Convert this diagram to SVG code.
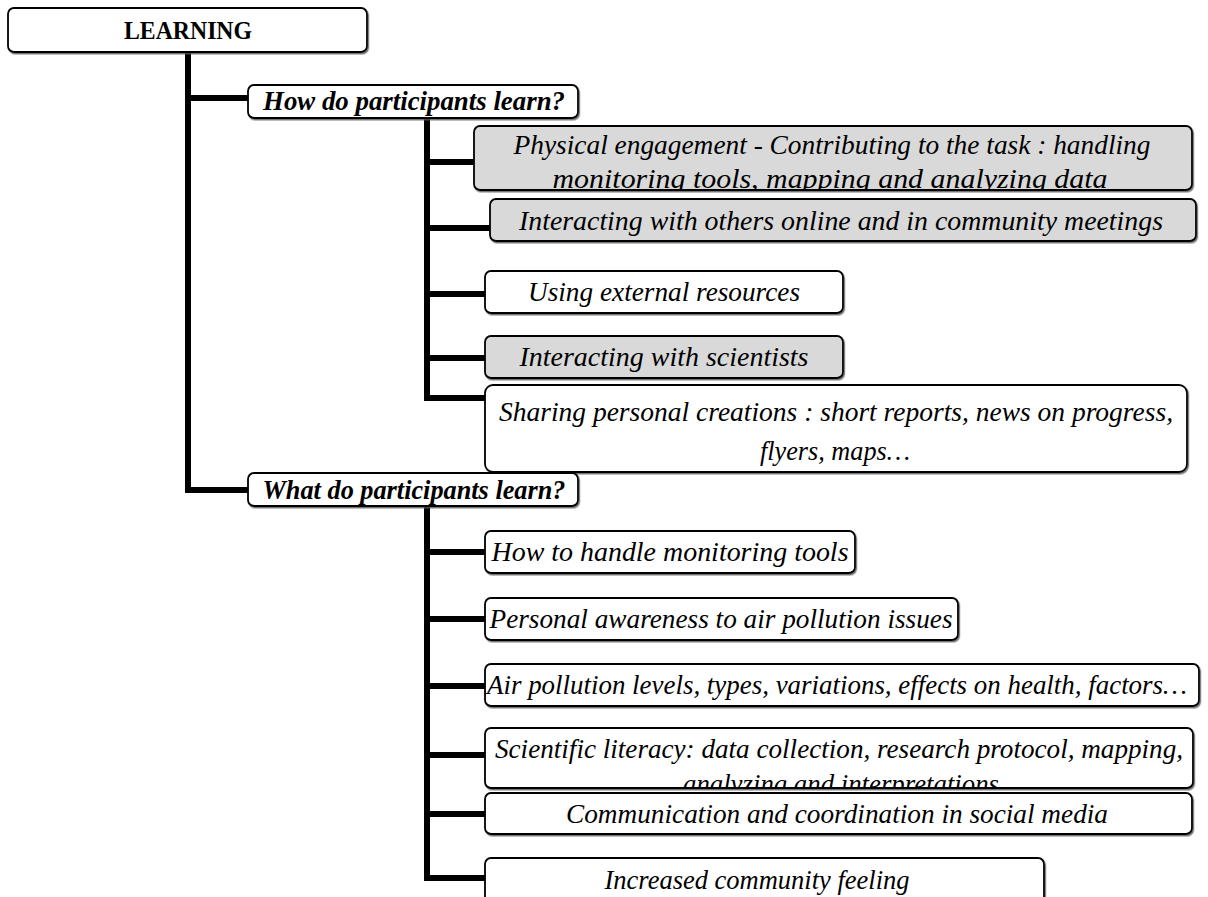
<svg xmlns="http://www.w3.org/2000/svg" width="1208" height="897" viewBox="0 0 1208 897">
<style>
.box{fill:#fff;stroke:#000;stroke-width:1.8;filter:url(#sh)}
.grey{fill:#d9d9d9}
.t{font-family:"Liberation Serif",serif;font-style:italic;font-size:27px;fill:#000;text-anchor:middle}
.b{font-weight:bold;font-size:28px}
.conn{fill:none;stroke:#000;stroke-width:6}
</style>
<defs>
<filter id="sh" x="-5%" y="-20%" width="110%" height="140%"><feDropShadow dx="1.2" dy="1.5" stdDeviation="0.6" flood-color="#555" flood-opacity="0.8"/></filter>
<clipPath id="c1"><rect x="474" y="126" width="718" height="64" rx="6"/></clipPath>
<clipPath id="c2"><rect x="485" y="728" width="708" height="60" rx="6"/></clipPath>
</defs>
<g id="connectors">
<path class="conn" d="M188 52 V490 H248"/>
<path class="conn" d="M188 98 H248"/>
<path class="conn" d="M427 118 V398 H485"/>
<path class="conn" d="M427 162 H474 M427 228 H490 M427 294 H485 M427 358 H485"/>
<path class="conn" d="M427 506 V878 H485"/>
<path class="conn" d="M427 552 H485 M427 619 H485 M427 686 H485 M427 755 H485 M427 814 H485"/>
</g>
<g id="learning"><rect class="box" x="8" y="8" width="359" height="44" rx="6"/><text class="t b" x="188" y="39" style="font-style:normal;font-size:25px" textLength="128" lengthAdjust="spacingAndGlyphs">LEARNING</text></g>
<g id="how"><rect class="box" x="248" y="85" width="330" height="33" rx="6"/><text class="t b" x="414" y="110" textLength="302" lengthAdjust="spacingAndGlyphs">How do participants learn?</text></g>
<g id="physical"><rect class="box grey" x="474" y="126" width="718" height="64" rx="6"/><g clip-path="url(#c1)"><text class="t" x="832" y="154" textLength="637" lengthAdjust="spacingAndGlyphs">Physical engagement - Contributing to the task : handling</text><text class="t" x="830" y="188" textLength="555" lengthAdjust="spacingAndGlyphs">monitoring tools, mapping and analyzing data</text></g></g>
<g id="others"><rect class="box grey" x="490" y="199" width="706" height="42" rx="6"/><text class="t" x="841" y="230" textLength="644" lengthAdjust="spacingAndGlyphs">Interacting with others online and in community meetings</text></g>
<g id="external"><rect class="box" x="485" y="271" width="358" height="42" rx="6"/><text class="t" x="664" y="301" textLength="272" lengthAdjust="spacingAndGlyphs">Using external resources</text></g>
<g id="scientists"><rect class="box grey" x="485" y="336" width="358" height="42" rx="6"/><text class="t" x="664" y="366" textLength="289" lengthAdjust="spacingAndGlyphs">Interacting with scientists</text></g>
<g id="sharing"><rect class="box" x="485" y="385" width="702" height="87" rx="8"/><text class="t" x="836" y="421" textLength="674" lengthAdjust="spacingAndGlyphs">Sharing personal creations : short reports, news on progress,</text><text class="t" x="835" y="460" textLength="150" lengthAdjust="spacingAndGlyphs">flyers, maps…</text></g>
<g id="what"><rect class="box" x="248" y="473" width="330" height="33" rx="6"/><text class="t b" x="414" y="499" textLength="303" lengthAdjust="spacingAndGlyphs">What do participants learn?</text></g>
<g id="tools"><rect class="box" x="485" y="531" width="370" height="42" rx="6"/><text class="t" x="670" y="561" textLength="357" lengthAdjust="spacingAndGlyphs">How to handle monitoring tools</text></g>
<g id="awareness"><rect class="box" x="485" y="598" width="473" height="42" rx="6"/><text class="t" x="721" y="628" textLength="463" lengthAdjust="spacingAndGlyphs">Personal awareness to air pollution issues</text></g>
<g id="levels"><rect class="box" x="485" y="664" width="714" height="42" rx="6"/><text class="t" x="837" y="694" textLength="700" lengthAdjust="spacingAndGlyphs">Air pollution levels, types, variations, effects on health, factors…</text></g>
<g id="literacy"><rect class="box" x="485" y="728" width="708" height="60" rx="6"/><g clip-path="url(#c2)"><text class="t" x="839" y="758" textLength="688" lengthAdjust="spacingAndGlyphs">Scientific literacy: data collection, research protocol, mapping,</text><text class="t" x="841" y="793" textLength="316" lengthAdjust="spacingAndGlyphs">analyzing and interpretations</text></g></g>
<g id="communication"><rect class="box" x="485" y="793" width="707" height="41" rx="6"/><text class="t" x="837" y="823" textLength="542" lengthAdjust="spacingAndGlyphs">Communication and coordination in social media</text></g>
<g id="community"><rect class="box" x="485" y="858" width="559" height="50" rx="6"/><text class="t" x="757" y="889" textLength="305" lengthAdjust="spacingAndGlyphs">Increased community feeling</text></g>
</svg>
